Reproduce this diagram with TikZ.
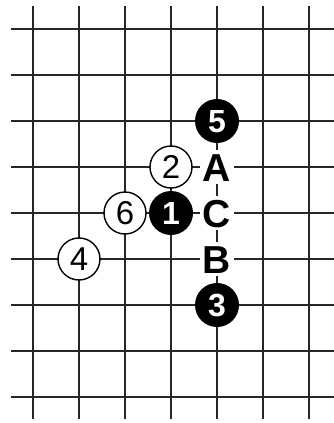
\documentclass[tikz,border=0pt]{standalone}
\usepackage{fontspec}
\setmainfont{Liberation Sans}
\begin{document}
\begin{tikzpicture}[x=1pt,y=-1pt,
  gridline/.style={line width=1.6pt,black!85},
  wstone/.style={circle,draw,line width=1.4pt,fill=white,minimum size=42pt,inner sep=0pt,
    text height=23pt,text depth=0pt,font=\fontsize{33}{33}\selectfont},
  bstone/.style={circle,fill=black,text=white,minimum size=44pt,inner sep=0pt,
    text height=23pt,text depth=0pt,font=\fontsize{32}{32}\selectfont\bfseries},
  lettermark/.style={fill=white,inner sep=3pt,text height=28pt,text depth=0pt,
    font=\fontsize{39}{39}\selectfont\bfseries}
]
\useasboundingbox (0,0) rectangle (334,423);
\foreach \x in {33,79,125,171,217,263,309}
  \draw[gridline] (\x,6) -- (\x,419);
\foreach \y in {29,75,121,167,213,259,305,351,397}
  \draw[gridline] (11,\y) -- (334,\y);
\node[lettermark] (A) at (217,167) {A};
\node[lettermark] (C) at (217,213) {C};
\node[lettermark] (B) at (217,259) {B};
\node[bstone] (s5) at (217,121) {5};
\node[wstone] (s2) at (171,167) {2};
\node[wstone] (s6) at (125,213) {6};
\node[bstone] (s1) at (171,213) {1};
\node[wstone] (s4) at (79,259) {4};
\node[bstone] (s3) at (217,305) {3};
\end{tikzpicture}
\end{document}
